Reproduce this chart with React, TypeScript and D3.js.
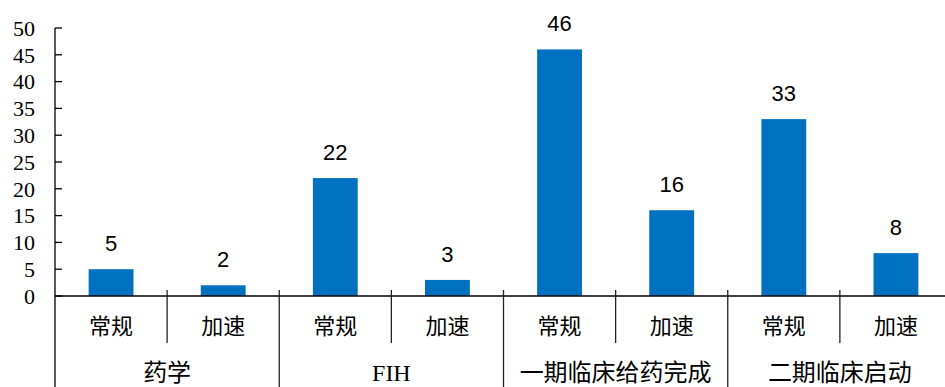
import React from "react";
import * as d3 from "d3";

const groups = ["药学", "FIH", "一期临床给药完成", "二期临床启动"];
const subCategories = ["常规", "加速"];
const values = [5, 2, 22, 3, 46, 16, 33, 8];
const yTicks = [0, 5, 10, 15, 20, 25, 30, 35, 40, 45, 50];

const W = 945;
const H = 387;
const left = 55;
const right = 952;
const top = 28;
const bottom = 296;

export default function App() {
  const cats = groups.flatMap((g) => subCategories.map((s) => `${g}|${s}`));
  const x = d3.scaleBand<string>().domain(cats).range([left, right]).paddingInner(0.6).paddingOuter(0.3);
  const y = d3.scaleLinear().domain([0, 50]).range([bottom, top]);
  const step = x.step();
  const serif = '"Liberation Serif", "Times New Roman", "Noto Sans CJK SC", serif';
  const sans = '"Liberation Sans", Arial, sans-serif';

  return (
    <div style={{ position: "fixed", left: 0, top: 0 }}>
      <svg width={W} height={H} viewBox={`0 0 ${W} ${H}`} style={{ display: "block", background: "#fff" }}>
        {/* bars */}
        {cats.map((c, i) => (
          <rect key={c} x={x(c)} y={y(values[i])} width={x.bandwidth()} height={y(0) - y(values[i])} fill="#0070C0" />
        ))}
        {/* value labels */}
        {cats.map((c, i) => (
          <text key={"v" + c} x={(x(c) as number) + x.bandwidth() / 2} y={y(values[i]) - 18} textAnchor="middle"
            fontFamily={sans} fontSize={22} fill="#000">
            {values[i]}
          </text>
        ))}
        {/* y axis */}
        <line x1={left} x2={left} y1={top} y2={H} stroke="#000" strokeWidth={1.3} />
        {yTicks.map((t) => (
          <g key={t}>
            <line x1={left} x2={left + 7} y1={y(t)} y2={y(t)} stroke="#000" strokeWidth={1.3} />
            <text x={35} y={y(t)} dy="0.35em" textAnchor="end" fontFamily={serif} fontSize={22} fill="#000">
              {t}
            </text>
          </g>
        ))}
        {/* x axis */}
        <line x1={left} x2={W} y1={bottom} y2={bottom} stroke="#000" strokeWidth={1.3} />
        {/* separators */}
        {d3.range(1, cats.length).map((i) => {
          const sx = left + i * step;
          const major = i % subCategories.length === 0;
          return (
            <line key={"s" + i} x1={sx} x2={sx} y1={bottom - 6} y2={major ? H : 343} stroke="#222" strokeWidth={1.3} />
          );
        })}
        {/* sub-category labels */}
        {cats.map((c, i) => (
          <text key={"c" + c} x={(x(c) as number) + x.bandwidth() / 2} y={326} dy="0.35em" textAnchor="middle"
            fontFamily={serif} fontSize={22} fill="#000">
            {subCategories[i % subCategories.length]}
          </text>
        ))}
        {/* group labels */}
        {groups.map((g, gi) => (
          <text key={"g" + g} x={left + (gi + 0.5) * step * subCategories.length} y={373} dy="0.35em" textAnchor="middle"
            fontFamily={serif} fontSize={24} fill="#000">
            {g}
          </text>
        ))}
      </svg>
    </div>
  );
}
